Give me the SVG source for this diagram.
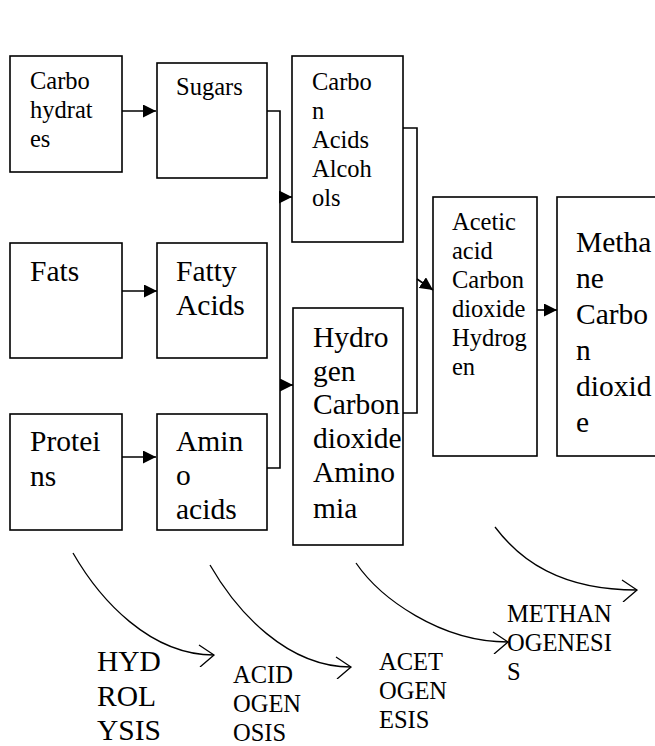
<svg xmlns="http://www.w3.org/2000/svg" width="655" height="746" viewBox="0 0 655 746">
<style>
rect.box{fill:#fff;stroke:#000;stroke-width:1.6}
text{font-family:"Liberation Serif","Times New Roman",serif;fill:#000}
.s{font-size:24.5px}
.b{font-size:29.5px}
.c{fill:none;stroke:#000;stroke-width:1.6}
.arc{fill:none;stroke:#000;stroke-width:1.3}
</style>
<defs>
<marker id="fa" markerUnits="userSpaceOnUse" markerWidth="13" markerHeight="13" refX="13" refY="6.5" orient="auto"><path d="M0,0 L13,6.5 L0,13 Z" fill="#000"/></marker>
<marker id="oa" markerUnits="userSpaceOnUse" markerWidth="20" markerHeight="24" refX="17" refY="12" orient="auto"><path d="M2,2 L17,12 L3,24" fill="none" stroke="#000" stroke-width="1.3"/></marker>
</defs>
<rect width="655" height="746" fill="#fff"/>
<g id="carbohydrates"><rect class="box" x="10" y="56" width="112" height="116"/><text class="s"><tspan x="30" y="89">Carbo</tspan><tspan x="30" y="118">hydrat</tspan><tspan x="30" y="147">es</tspan></text></g>
<g id="sugars"><rect class="box" x="157" y="63" width="110" height="115"/><text class="s" x="176" y="95">Sugars</text></g>
<g id="carbon-acids"><rect class="box" x="292" y="56" width="111" height="186"/><text class="s"><tspan x="312" y="90">Carbo</tspan><tspan x="312" y="119">n</tspan><tspan x="312" y="148">Acids</tspan><tspan x="312" y="177">Alcoh</tspan><tspan x="312" y="206">ols</tspan></text></g>
<g id="fats"><rect class="box" x="10" y="243" width="112" height="115"/><text class="b" x="30" y="281">Fats</text></g>
<g id="fatty-acids"><rect class="box" x="157" y="243" width="110" height="115"/><text class="b"><tspan x="176" y="281">Fatty</tspan><tspan x="176" y="315">Acids</tspan></text></g>
<g id="proteins"><rect class="box" x="10" y="414" width="112" height="116"/><text class="b"><tspan x="30" y="451">Protei</tspan><tspan x="30" y="486">ns</tspan></text></g>
<g id="amino-acids"><rect class="box" x="157" y="414" width="110" height="116"/><text class="b"><tspan x="176" y="451">Amin</tspan><tspan x="176" y="485">o</tspan><tspan x="176" y="519">acids</tspan></text></g>
<g id="hydrogen"><rect class="box" x="293" y="308" width="110" height="237"/><text class="b"><tspan x="313" y="347">Hydro</tspan><tspan x="313" y="381">gen</tspan><tspan x="313" y="414">Carbon</tspan><tspan x="313" y="448">dioxide</tspan><tspan x="313" y="482">Amino</tspan><tspan x="313" y="518">mia</tspan></text></g>
<g id="acetic"><rect class="box" x="433" y="197" width="104" height="259"/><text class="s"><tspan x="452" y="230">Acetic</tspan><tspan x="452" y="259">acid</tspan><tspan x="452" y="288">Carbon</tspan><tspan x="452" y="317">dioxide</tspan><tspan x="452" y="346">Hydrog</tspan><tspan x="452" y="375">en</tspan></text></g>
<g id="methane"><rect class="box" x="557" y="197" width="110" height="259"/><text class="b"><tspan x="576" y="252">Metha</tspan><tspan x="576" y="288">ne</tspan><tspan x="576" y="324">Carbo</tspan><tspan x="576" y="360">n</tspan><tspan x="576" y="396">dioxid</tspan><tspan x="576" y="432">e</tspan></text></g>
<g id="connectors">
<path class="c" d="M122,111 H156" marker-end="url(#fa)"/>
<path class="c" d="M122,291 H157" marker-end="url(#fa)"/>
<path class="c" d="M122,457 H156" marker-end="url(#fa)"/>
<path class="c" d="M267,111 H280 V468 H267"/>
<path class="c" d="M280,197 H292" marker-end="url(#fa)"/>
<path class="c" d="M280,385 H293" marker-end="url(#fa)"/>
<path class="c" d="M403,128 H417 V413 H403"/>
<path class="c" d="M417,279 L433,290" marker-end="url(#fa)"/>
<path class="c" d="M537,310 H557" marker-end="url(#fa)"/>
<path class="arc" d="M73,553 C100,600 150,655 214,655" marker-end="url(#oa)"/>
<path class="arc" d="M210,565 C237,612 287,667 351,667" marker-end="url(#oa)"/>
<path class="arc" d="M356,563 C380,598 440,642 508,642" marker-end="url(#oa)"/>
<path class="arc" d="M495,527 C520,560 560,590 637,590" marker-end="url(#oa)"/>
</g>
<g id="labels">
<text class="b"><tspan x="97" y="671">HYD</tspan><tspan x="97" y="706">ROL</tspan><tspan x="97" y="740">YSIS</tspan></text>
<text class="s"><tspan x="233" y="683">ACID</tspan><tspan x="233" y="712">OGEN</tspan><tspan x="233" y="741">OSIS</tspan></text>
<text class="s"><tspan x="379" y="670">ACET</tspan><tspan x="379" y="699">OGEN</tspan><tspan x="379" y="728">ESIS</tspan></text>
<text class="s"><tspan x="507" y="622">METHAN</tspan><tspan x="507" y="651">OGENESI</tspan><tspan x="507" y="680">S</tspan></text>
</g>
</svg>
